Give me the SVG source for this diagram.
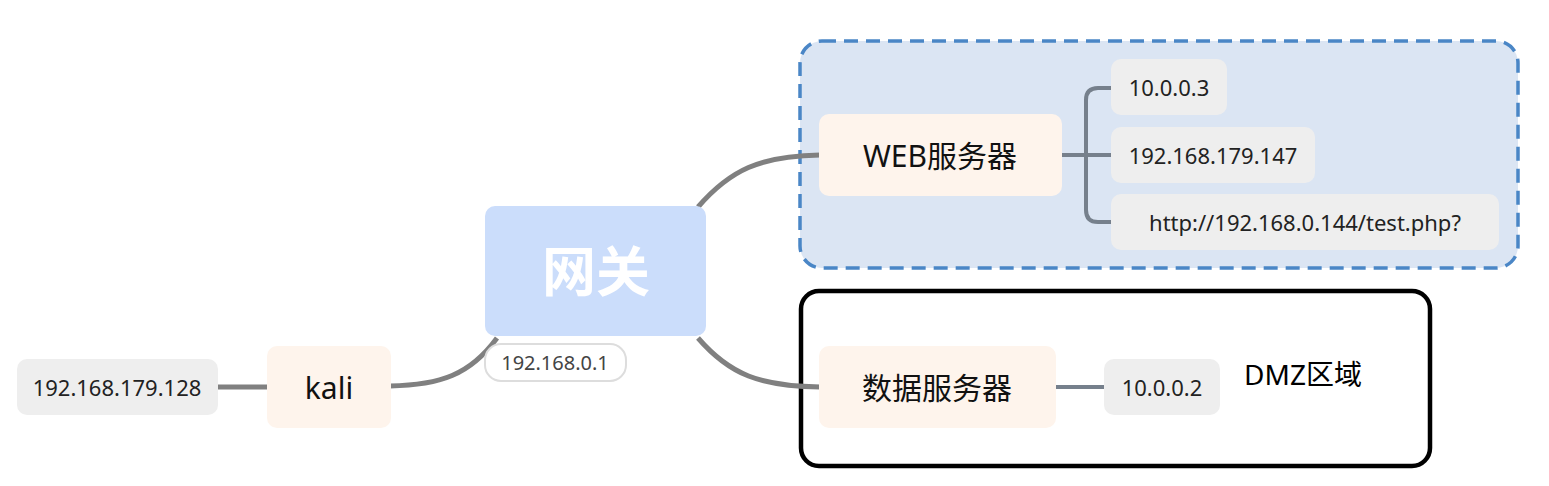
<svg xmlns="http://www.w3.org/2000/svg" width="1549" height="486" viewBox="0 0 1549 486">
<style>
text{font-family:"Noto Sans","Noto Sans CJK SC",sans-serif;dominant-baseline:central;text-anchor:middle}
.leaf{fill:#eeeeee}.lt{font-size:22px;fill:#222}
.sub{fill:#fef4ec}.st{font-size:30px;fill:#111}
.c{fill:none;stroke:#808080;stroke-width:5}
.b{fill:none;stroke:#76808c;stroke-width:4}
</style>
<rect x="800" y="41" width="718" height="227" rx="22" fill="#dbe5f3" stroke="#4a86c6" stroke-width="3.5" stroke-dasharray="14,8"/>
<rect x="801" y="291" width="629" height="175" rx="18" fill="none" stroke="#000" stroke-width="4.5"/>
<g id="connectors">
<path class="c" d="M698 207 C730 170 760 156 820 155"/>
<path class="c" d="M698 338 C730 375 760 386 820 387"/>
<path class="c" d="M497 338 C470 375 440 385 390 386"/>
<path class="c" d="M267 387 H218"/>
<path class="b" d="M1062 155 H1112 M1112 88 H1098 Q1086 88 1086 100 V210 Q1086 222 1098 222 H1112 M1086 155 H1112"/>
<path class="b" d="M1056 387 H1104"/>
</g>
<g id="gw"><rect x="485" y="206" width="221" height="130" rx="10" fill="#cbddfb"/><text x="596" y="271" font-size="54" font-weight="bold" fill="#fff">网关</text></g>
<g id="gwlabel"><rect x="485" y="344" width="141" height="37" rx="16" fill="#fff" stroke="#ddd" stroke-width="2"/><text x="555" y="362" font-size="20" fill="#444" font-family="Liberation Sans">192.168.0.1</text></g>
<g id="web"><rect x="819" y="114" width="243" height="82" rx="10" class="sub"/><text x="940" y="155" class="st">WEB服务器</text></g>
<g id="db"><rect x="819" y="346" width="237" height="82" rx="10" class="sub"/><text x="937" y="387" class="st">数据服务器</text></g>
<g id="kali"><rect x="267" y="346" width="124" height="82" rx="10" class="sub"/><text x="329" y="387" class="st">kali</text></g>
<g id="l1"><rect x="1111" y="59" width="116" height="56" rx="10" class="leaf"/><text x="1169" y="87" class="lt">10.0.0.3</text></g>
<g id="l2"><rect x="1111" y="127" width="204" height="56" rx="10" class="leaf"/><text x="1213" y="155" class="lt">192.168.179.147</text></g>
<g id="l3"><rect x="1111" y="194" width="388" height="56" rx="10" class="leaf"/><text x="1305" y="222" class="lt">http://192.168.0.144/test.php?</text></g>
<g id="l4"><rect x="1104" y="359" width="116" height="56" rx="10" class="leaf"/><text x="1162" y="387" class="lt">10.0.0.2</text></g>
<g id="l5"><rect x="17" y="359" width="201" height="56" rx="10" class="leaf"/><text x="117" y="387" class="lt">192.168.179.128</text></g>
<text x="1303" y="374" font-size="28" fill="#000">DMZ区域</text>
</svg>
